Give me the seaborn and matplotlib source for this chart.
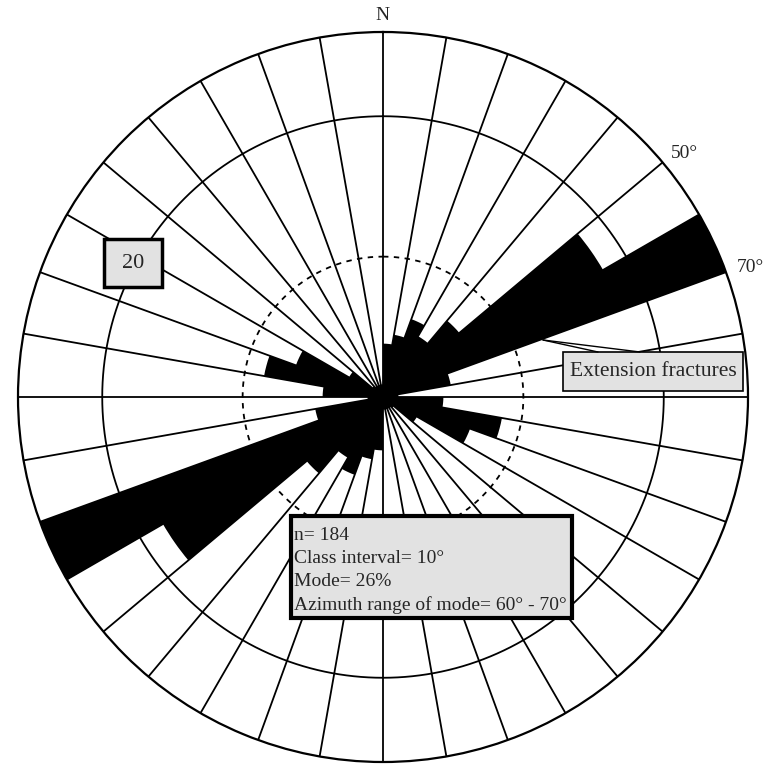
import numpy as np
import pandas as pd
import matplotlib
matplotlib.use("Agg")
import matplotlib.pyplot as plt
import seaborn as sns
from matplotlib.patches import Rectangle

# 10 degree azimuth classes (start of class) and share of fractures in %
azimuth_start = list(range(0, 360, 10))
percent = [3.8, 4.5, 5.9, 5.0, 7.1, 18.1, 26.0, 4.9, 1.1,
           4.3, 8.6, 6.6, 2.8, 1.0, 0.9, 0.9, 0.9, 0.9,
           3.8, 4.5, 5.9, 5.0, 7.1, 18.1, 26.0, 4.9, 1.1,
           4.3, 8.6, 6.6, 2.8, 1.0, 0.9, 0.9, 0.9, 0.9]

ring_solid = 20
ring_dashed = 10
outer_value = 26

stats_lines = ["n= 184", "Class interval= 10°", "Mode= 26%",
               "Azimuth range of mode= 60° - 70°"]

W, H = 764, 767
cx, cy, R = 383, 397, 365

sns.set_style("white")
plt.rcParams["font.family"] = ["Liberation Serif", "DejaVu Serif"]

fig = plt.figure(figsize=(W / 100, H / 100), dpi=100)
fig.patch.set_facecolor("white")

ax = fig.add_axes([(cx - R) / W, (H - cy - R) / H, 2 * R / W, 2 * R / H],
                  projection="polar")
ax.set_theta_zero_location("N")
ax.set_theta_direction(-1)

df = pd.DataFrame({
    "theta": np.deg2rad(np.array(azimuth_start) + 5),
    "percent": percent,
})
edges = np.deg2rad(np.arange(0, 361, 10)).tolist()

sns.histplot(data=df, x="theta", weights="percent", bins=edges, ax=ax,
             color="black", alpha=1, linewidth=0, zorder=3)

# spokes every 10 degrees
for a in np.deg2rad(azimuth_start):
    ax.plot([a, a], [0, outer_value], color="black", lw=1.3, zorder=2)

# rings
t = np.linspace(0, 2 * np.pi, 721)
ax.plot(t, np.full_like(t, ring_solid), color="black", lw=1.3, zorder=2)
ax.plot(t, np.full_like(t, ring_dashed), color="black", lw=1.3,
        ls=(0, (3, 3)), zorder=2)

ax.set_ylim(0, outer_value)
ax.set_xticks([])
ax.set_yticks([])
ax.grid(False)
ax.set_xlabel("")
ax.set_ylabel("")
ax.spines["polar"].set_linewidth(1.6)
ax.spines["polar"].set_color("black")
ax.set_facecolor("white")

# overlay in pixel coordinates for labels and boxes
ov = fig.add_axes([0, 0, 1, 1])
ov.set_xlim(0, W)
ov.set_ylim(H, 0)
ov.axis("off")

ov.text(382, 15, "N", ha="center", va="center", fontsize=14)
ov.text(684, 153, "50°", ha="center", va="center", fontsize=14)
ov.text(750, 267, "70°", ha="center", va="center", fontsize=14)

box_grey = "#e2e2e2"

ov.add_patch(Rectangle((104, 239), 58, 48, fc=box_grey, ec="black", lw=2.5))
ov.text(133, 263, "20", ha="center", va="center", fontsize=16)

ov.plot([543, 598], [340, 352], color="black", lw=1)
ov.plot([543, 640], [340, 352], color="black", lw=1)
ov.add_patch(Rectangle((563, 352), 180, 39, fc=box_grey, ec="black", lw=1.2))
ov.text(653, 372, "Extension fractures", ha="center", va="center", fontsize=15.5)

ov.add_patch(Rectangle((291, 516), 281, 102, fc=box_grey, ec="black", lw=3))
for i, line in enumerate(stats_lines):
    ov.text(294, 535 + i * 23.5, line, ha="left", va="center", fontsize=14)

fig.savefig("out.png", dpi=100)
